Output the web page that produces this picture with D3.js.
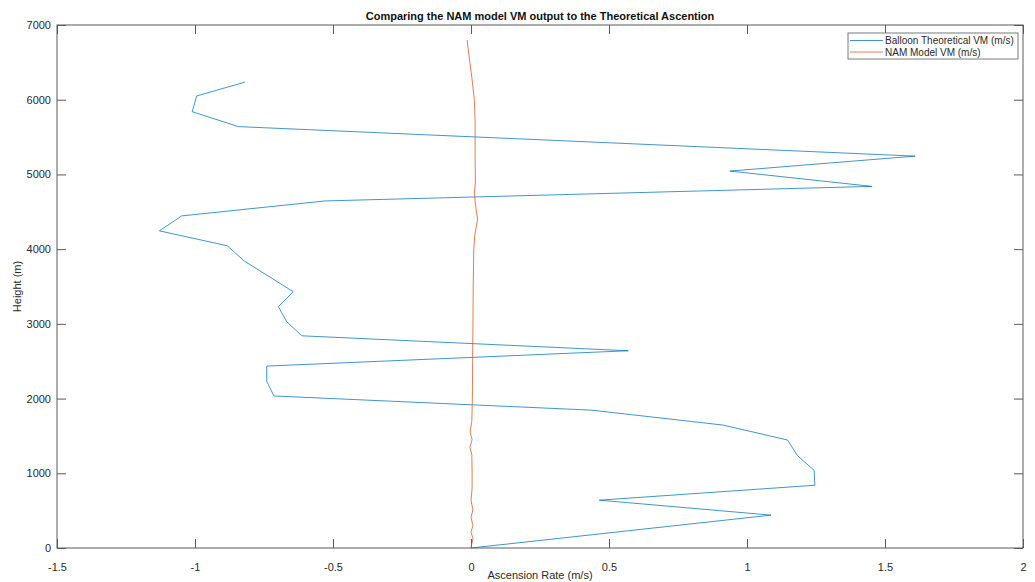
<!DOCTYPE html>
<html>
<head>
<meta charset="utf-8">
<script src="https://cdn.jsdelivr.net/npm/d3@7"></script>
<style>
  html, body { margin: 0; padding: 0; background: #fff; }
  svg { display: block; font-family: "Liberation Sans", Arial, Helvetica, sans-serif; }
</style>
</head>
<body>
<svg id="chart" width="1035" height="582"></svg>
<script>
// Balloon theoretical vertical motion: height (m) and ascent rate (m/s)
const balloonHeight = [0, 440, 640, 840, 1040, 1235, 1445, 1645, 1845, 2035, 2230, 2435,
  2640, 2840, 3030, 3230, 3430, 3840, 4045, 4245, 4445, 4645, 4840, 5045, 5245, 5640,
  5840, 6050, 6235];
const balloonVM = [0, 1.087, 0.465, 1.246, 1.243, 1.183, 1.147, 0.914, 0.437, -0.714, -0.740, -0.740,
  0.570, -0.613, -0.668, -0.698, -0.644, -0.821, -0.883, -1.129, -1.048, -0.529, 1.452, 0.938, 1.609, -0.843,
  -1.010, -0.994, -0.819];

// NAM model vertical motion profile
const namHeight = [0, 130, 210, 300, 410, 510, 640, 800, 1000, 1250, 1350, 1450, 1550, 1700,
  2000, 2500, 3000, 3500, 4000, 4200, 4400, 4600, 4750, 4900, 5200, 5700, 6000, 6300, 6550, 6800];
const namVM = [0, 0.007, 0.0, 0.007, 0.0, 0.007, 0.0, 0.004, 0.004, 0.003, -0.004, 0.004, -0.003, 0.003,
  0.005, 0.006, 0.007, 0.008, 0.010, 0.014, 0.024, 0.016, 0.012, 0.016, 0.015, 0.015, 0.012, 0.003, -0.006, -0.014];

const xTicks = [-1.5, -1, -0.5, 0, 0.5, 1, 1.5, 2];
const yTicks = [0, 1000, 2000, 3000, 4000, 5000, 6000, 7000];

const seriesNames = ["Balloon Theoretical VM (m/s)", "NAM Model VM (m/s)"];
const seriesColors = ["#0072BD", "#D95319"];

const W = 1035, H = 582;
const margin = { top: 25, right: 12, bottom: 34, left: 57 };
const iw = W - margin.left - margin.right;
const ih = H - margin.top - margin.bottom;

const svg = d3.select("#chart");
const g = svg.append("g").attr("transform", `translate(${margin.left},${margin.top})`);

const x = d3.scaleLinear().domain([-1.5, 2]).range([0, iw]);
const y = d3.scaleLinear().domain([0, 7000]).range([ih, 0]);

const axisColor = "#5a5a5a";
const textColor = "#2a2a2a";
const tickLen = 9;

function styleAxis(sel) {
  sel.select(".domain").remove();
  sel.selectAll(".tick line").attr("stroke", axisColor).attr("stroke-width", 1);
  sel.selectAll(".tick text").attr("fill", textColor).style("font-size", "11px");
}

// bottom axis with labels, ticks pointing inward
g.append("g").attr("transform", `translate(0,${ih})`)
  .call(d3.axisBottom(x).tickValues(xTicks).tickFormat(d => String(d))
    .tickSizeInner(-tickLen).tickSizeOuter(0).tickPadding(tickLen + 6))
  .call(styleAxis);

// top axis ticks only
g.append("g")
  .call(d3.axisTop(x).tickValues(xTicks).tickFormat("")
    .tickSizeInner(-tickLen).tickSizeOuter(0))
  .call(styleAxis);

// left axis with labels
g.append("g")
  .call(d3.axisLeft(y).tickValues(yTicks).tickFormat(d => String(d))
    .tickSizeInner(-tickLen).tickSizeOuter(0).tickPadding(6))
  .call(styleAxis);

// right axis ticks only
g.append("g").attr("transform", `translate(${iw},0)`)
  .call(d3.axisRight(y).tickValues(yTicks).tickFormat("")
    .tickSizeInner(-tickLen).tickSizeOuter(0))
  .call(styleAxis);

// plot box
g.append("rect")
  .attr("x", 0).attr("y", 0).attr("width", iw).attr("height", ih)
  .attr("fill", "none").attr("stroke", axisColor).attr("stroke-width", 1);

const line = d3.line()
  .x(d => x(d[0]))
  .y(d => y(d[1]));

const balloon = balloonVM.map((v, i) => [v, balloonHeight[i]]);
const nam = namVM.map((v, i) => [v, namHeight[i]]);

g.append("path").datum(balloon)
  .attr("d", line)
  .attr("fill", "none")
  .attr("stroke", seriesColors[0])
  .attr("stroke-opacity", 0.75)
  .attr("stroke-width", 1)
  .attr("stroke-linejoin", "round");

g.append("path").datum(nam)
  .attr("d", line)
  .attr("fill", "none")
  .attr("stroke", seriesColors[1])
  .attr("stroke-opacity", 0.75)
  .attr("stroke-width", 1)
  .attr("stroke-linejoin", "round");

// title
svg.append("text")
  .attr("x", margin.left + iw / 2).attr("y", 20)
  .attr("text-anchor", "middle")
  .attr("fill", "#111")
  .style("font-size", "11px").style("font-weight", "bold")
  .text("Comparing the NAM model VM output to the Theoretical Ascention");

// axis labels
svg.append("text")
  .attr("x", margin.left + iw / 2).attr("y", 579)
  .attr("text-anchor", "middle")
  .attr("fill", textColor)
  .style("font-size", "11px")
  .text("Ascension Rate (m/s)");

svg.append("text")
  .attr("transform", `translate(21,${margin.top + ih / 2}) rotate(-90)`)
  .attr("text-anchor", "middle")
  .attr("fill", textColor)
  .style("font-size", "11px")
  .text("Height (m)");

// legend
const legend = svg.append("g").attr("transform", "translate(848,33)");
legend.append("rect")
  .attr("x", 0).attr("y", 0).attr("width", 170).attr("height", 26)
  .attr("fill", "#fff").attr("stroke", "#7a7a7a").attr("stroke-width", 1);

seriesNames.forEach((name, i) => {
  const cy = 7.5 + i * 11.5;
  legend.append("line")
    .attr("x1", 2).attr("x2", 35).attr("y1", cy).attr("y2", cy)
    .attr("stroke", seriesColors[i]).attr("stroke-opacity", 0.75).attr("stroke-width", 1);
  legend.append("text")
    .attr("x", 37).attr("y", cy).attr("dy", "0.35em")
    .attr("fill", textColor)
    .style("font-size", "10px")
    .text(name);
});
</script>
</body>
</html>
